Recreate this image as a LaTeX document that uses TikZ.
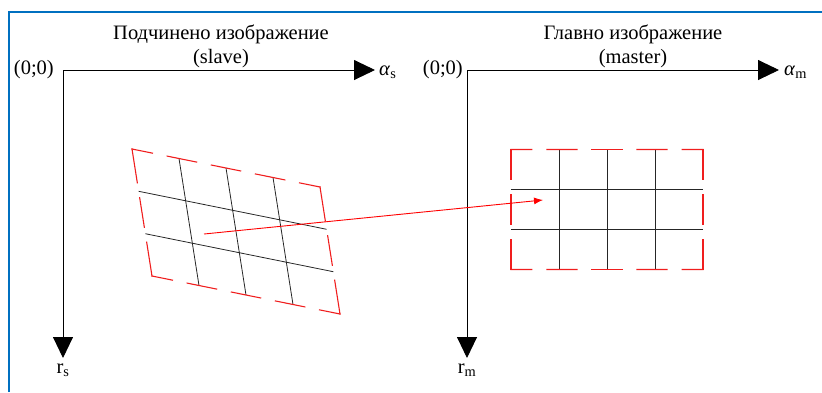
\documentclass[tikz,border=0pt]{standalone}
\usepackage{fontspec}
\setmainfont{Liberation Serif}
\usetikzlibrary{arrows.meta,calc,positioning}
\definecolor{frameblue}{RGB}{0,112,192}
\definecolor{gridred}{RGB}{240,30,30}
\tikzset{
  axis/.style={line width=0.9pt, -{Triangle[length=21pt,width=20pt]}},
  gridline/.style={line width=0.8pt, black!85},
  rdash/.style={line width=1.1pt, gridred, line cap=rect},
  lbl/.style={inner sep=1pt, font=\fontsize{20.5}{24}\selectfont},
}
\begin{document}
\begin{tikzpicture}[x=1pt,y=-1pt]
  \useasboundingbox (0,0) rectangle (822,392);
  \draw[frameblue, line width=2pt] (9,392) -- (9,12) -- (822,12);

  % slave axes
  \coordinate (os) at (63,70);
  \coordinate (sx) at (375,70);
  \coordinate (sy) at (63,358);
  \node[lbl, left=8pt of os] (zs) {(0;0)};
  \node[lbl, anchor=west] (as) at (378,72) {\textit{α}\textsubscript{s}};
  \node[lbl, below=5pt of sy] (rs) {r\textsubscript{s}};
  \node[lbl, align=center] (ts) at (221,46) {Подчинено изображение\\(slave)};
  \draw[axis] (os) -- (sx);
  \draw[axis] (os) -- (sy);

  % master axes
  \coordinate (om) at (467,70);
  \coordinate (mx) at (779,70);
  \coordinate (my) at (467,358);
  \node[lbl, left=3pt of om] (zm) {(0;0)};
  \node[lbl, anchor=west] (am) at (783,72) {\textit{α}\textsubscript{m}};
  \node[lbl, below=5pt of my] (rm) {r\textsubscript{m}};
  \node[lbl, align=center] (tm) at (633,46) {Главно изображение\\(master)};
  \draw[axis] (om) -- (mx);
  \draw[axis] (om) -- (my);

  % grid corners
  \coordinate (stl) at (132,149);
  \coordinate (str) at (320,187);
  \coordinate (sbl) at (152,276);
  \coordinate (sbr) at (340,314);
  \coordinate (mtl) at (511,149.5);
  \coordinate (mtr) at (703,149.5);
  \coordinate (mbl) at (511,269.5);
  \coordinate (mbr) at (703,269.5);

  % inner grid lines
  \foreach \f in {0.25,0.5,0.75} {
    \draw[gridline] ($(stl)!\f!(str)$) -- ($(sbl)!\f!(sbr)$);
    \draw[gridline] ($(mtl)!\f!(mtr)$) -- ($(mbl)!\f!(mbr)$);
  }
  \foreach \f in {0.333,0.667} {
    \draw[gridline] ($(stl)!\f!(sbl)$) -- ($(str)!\f!(sbr)$);
    \draw[gridline] ($(mtl)!\f!(mbl)$) -- ($(mtr)!\f!(mbr)$);
  }

  % dashed red borders
  \foreach \a/\b in {0/0.109,0.187/0.344,0.422/0.578,0.656/0.813,0.891/1} {
    \draw[rdash] ($(stl)!\a!(str)$) -- ($(stl)!\b!(str)$);
    \draw[rdash] ($(sbl)!\a!(sbr)$) -- ($(sbl)!\b!(sbr)$);
    \draw[rdash] ($(mtl)!\a!(mtr)$) -- ($(mtl)!\b!(mtr)$);
    \draw[rdash] ($(mbl)!\a!(mbr)$) -- ($(mbl)!\b!(mbr)$);
  }
  \foreach \a/\b in {0/0.267,0.383/0.617,0.733/1} {
    \draw[rdash] ($(stl)!\a!(sbl)$) -- ($(stl)!\b!(sbl)$);
    \draw[rdash] ($(str)!\a!(sbr)$) -- ($(str)!\b!(sbr)$);
  }
  \foreach \a/\b in {0/0.25,0.375/0.625,0.75/1} {
    \draw[rdash] ($(mtl)!\a!(mbl)$) -- ($(mtl)!\b!(mbl)$);
    \draw[rdash] ($(mtr)!\a!(mbr)$) -- ($(mtr)!\b!(mbr)$);
  }

  % mapping arrow
  \coordinate (src) at (204,234);
  \coordinate (dst) at (543,200);
  \draw[red, line width=0.9pt, -{Latex[length=9pt,width=7pt]}] (src) -- (dst);
\end{tikzpicture}
\end{document}
